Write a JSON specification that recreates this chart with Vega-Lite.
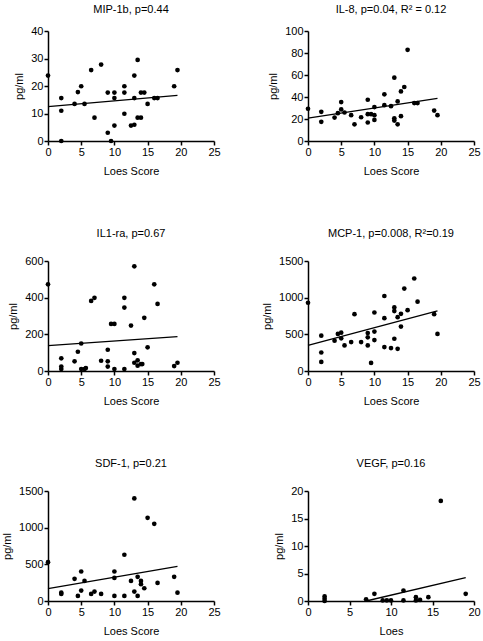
{
  "$schema": "https://vega.github.io/schema/vega-lite/v6.json",
  "padding": {"left": 1, "top": 4, "right": 5, "bottom": 5},
  "background": "white",
  "config": {
    "view": {"stroke": null},
    "font": "Liberation Sans",
    "axis": {
      "grid": false,
      "domainColor": "black",
      "domainWidth": 1.5,
      "tickColor": "black",
      "tickWidth": 1.5,
      "tickSize": 4,
      "labelFont": "Liberation Sans",
      "labelFontSize": 11,
      "labelColor": "black",
      "labelPadding": 1,
      "labelFlush": false,
      "labelOverlap": false,
      "titleFont": "Liberation Sans",
      "titleFontSize": 11,
      "titleFontWeight": "normal",
      "titleColor": "black",
      "format": "d"
    },
    "axisX": {"titlePadding": 8},
    "axisY": {"titlePadding": 6},
    "title": {"font": "Liberation Sans", "fontSize": 11, "fontWeight": "normal", "color": "black", "offset": 16, "anchor": "middle"}
  },
  "datasets": {
    "pts": [
      {"p": "MIP", "x": 0, "y": 23.8}, {"p": "MIP", "x": 2, "y": 15.6}, {"p": "MIP", "x": 2, "y": 11.0}, {"p": "MIP", "x": 2, "y": 0},
      {"p": "MIP", "x": 4, "y": 13.5}, {"p": "MIP", "x": 4.5, "y": 17.8}, {"p": "MIP", "x": 5, "y": 19.9}, {"p": "MIP", "x": 5.5, "y": 13.5},
      {"p": "MIP", "x": 6.5, "y": 25.8}, {"p": "MIP", "x": 7, "y": 8.5}, {"p": "MIP", "x": 8, "y": 27.8}, {"p": "MIP", "x": 9, "y": 17.6},
      {"p": "MIP", "x": 9, "y": 3.0}, {"p": "MIP", "x": 9.5, "y": 0}, {"p": "MIP", "x": 10, "y": 17.6}, {"p": "MIP", "x": 10, "y": 15.6},
      {"p": "MIP", "x": 10, "y": 5.6}, {"p": "MIP", "x": 11.5, "y": 19.9}, {"p": "MIP", "x": 11.5, "y": 17.6}, {"p": "MIP", "x": 11.5, "y": 9.9},
      {"p": "MIP", "x": 12.5, "y": 5.6}, {"p": "MIP", "x": 13, "y": 23.8}, {"p": "MIP", "x": 13, "y": 15.6}, {"p": "MIP", "x": 13, "y": 5.9},
      {"p": "MIP", "x": 13.5, "y": 29.5}, {"p": "MIP", "x": 13.5, "y": 8.5}, {"p": "MIP", "x": 14, "y": 8.5}, {"p": "MIP", "x": 14, "y": 17.6},
      {"p": "MIP", "x": 14.5, "y": 17.6}, {"p": "MIP", "x": 15, "y": 13.5}, {"p": "MIP", "x": 16, "y": 15.6}, {"p": "MIP", "x": 16.5, "y": 15.6},
      {"p": "MIP", "x": 19, "y": 19.9}, {"p": "MIP", "x": 19.5, "y": 25.8},

      {"p": "IL8", "x": 0, "y": 29.3}, {"p": "IL8", "x": 2, "y": 26.5}, {"p": "IL8", "x": 2, "y": 17.4}, {"p": "IL8", "x": 4, "y": 21.3},
      {"p": "IL8", "x": 4.5, "y": 25.3}, {"p": "IL8", "x": 5, "y": 35.4}, {"p": "IL8", "x": 5, "y": 28.7}, {"p": "IL8", "x": 5.5, "y": 25.9},
      {"p": "IL8", "x": 6.5, "y": 23.5}, {"p": "IL8", "x": 7, "y": 15.2}, {"p": "IL8", "x": 8, "y": 21.6}, {"p": "IL8", "x": 9, "y": 37.5},
      {"p": "IL8", "x": 9, "y": 24.4}, {"p": "IL8", "x": 9, "y": 16.8}, {"p": "IL8", "x": 9.5, "y": 24.4}, {"p": "IL8", "x": 10, "y": 30.8},
      {"p": "IL8", "x": 10, "y": 23.5}, {"p": "IL8", "x": 10, "y": 19.2}, {"p": "IL8", "x": 11.5, "y": 42.4}, {"p": "IL8", "x": 11.5, "y": 32.6},
      {"p": "IL8", "x": 12.5, "y": 31.7}, {"p": "IL8", "x": 13, "y": 57.6}, {"p": "IL8", "x": 13, "y": 20.7}, {"p": "IL8", "x": 13, "y": 18.6},
      {"p": "IL8", "x": 13.5, "y": 15.2}, {"p": "IL8", "x": 13.5, "y": 36.0}, {"p": "IL8", "x": 14, "y": 45.1}, {"p": "IL8", "x": 14, "y": 22.6},
      {"p": "IL8", "x": 14.5, "y": 49.1}, {"p": "IL8", "x": 15, "y": 82.9}, {"p": "IL8", "x": 16, "y": 34.5}, {"p": "IL8", "x": 16.5, "y": 34.5},
      {"p": "IL8", "x": 19, "y": 27.7}, {"p": "IL8", "x": 19.5, "y": 23.5},

      {"p": "IL1", "x": 0, "y": 473}, {"p": "IL1", "x": 2, "y": 69}, {"p": "IL1", "x": 2, "y": 24}, {"p": "IL1", "x": 2, "y": 11},
      {"p": "IL1", "x": 4, "y": 53}, {"p": "IL1", "x": 4.5, "y": 105}, {"p": "IL1", "x": 5, "y": 150}, {"p": "IL1", "x": 5, "y": 11},
      {"p": "IL1", "x": 5.5, "y": 11}, {"p": "IL1", "x": 5.7, "y": 16}, {"p": "IL1", "x": 6.5, "y": 382}, {"p": "IL1", "x": 7, "y": 399},
      {"p": "IL1", "x": 8, "y": 56}, {"p": "IL1", "x": 9, "y": 116}, {"p": "IL1", "x": 9, "y": 53}, {"p": "IL1", "x": 9, "y": 24},
      {"p": "IL1", "x": 9.5, "y": 257}, {"p": "IL1", "x": 10, "y": 257}, {"p": "IL1", "x": 10, "y": 11}, {"p": "IL1", "x": 11.5, "y": 399},
      {"p": "IL1", "x": 11.5, "y": 346}, {"p": "IL1", "x": 11.5, "y": 11}, {"p": "IL1", "x": 12.5, "y": 248}, {"p": "IL1", "x": 13, "y": 571},
      {"p": "IL1", "x": 13, "y": 98}, {"p": "IL1", "x": 13, "y": 45}, {"p": "IL1", "x": 13.5, "y": 58}, {"p": "IL1", "x": 13.5, "y": 29},
      {"p": "IL1", "x": 14, "y": 38}, {"p": "IL1", "x": 14.2, "y": 38}, {"p": "IL1", "x": 14.5, "y": 290}, {"p": "IL1", "x": 15, "y": 129},
      {"p": "IL1", "x": 16, "y": 473}, {"p": "IL1", "x": 16.5, "y": 366}, {"p": "IL1", "x": 19, "y": 27}, {"p": "IL1", "x": 19.5, "y": 45},

      {"p": "MCP", "x": 0, "y": 931}, {"p": "MCP", "x": 2, "y": 482}, {"p": "MCP", "x": 2, "y": 252}, {"p": "MCP", "x": 2, "y": 124},
      {"p": "MCP", "x": 4, "y": 413}, {"p": "MCP", "x": 4.5, "y": 505}, {"p": "MCP", "x": 5, "y": 523}, {"p": "MCP", "x": 5, "y": 445},
      {"p": "MCP", "x": 5.5, "y": 349}, {"p": "MCP", "x": 6.5, "y": 394}, {"p": "MCP", "x": 7, "y": 775}, {"p": "MCP", "x": 8, "y": 394},
      {"p": "MCP", "x": 9, "y": 518}, {"p": "MCP", "x": 9, "y": 459}, {"p": "MCP", "x": 9, "y": 349}, {"p": "MCP", "x": 9.5, "y": 110},
      {"p": "MCP", "x": 10, "y": 798}, {"p": "MCP", "x": 10, "y": 537}, {"p": "MCP", "x": 10, "y": 422}, {"p": "MCP", "x": 11.5, "y": 1023},
      {"p": "MCP", "x": 11.5, "y": 720}, {"p": "MCP", "x": 11.5, "y": 326}, {"p": "MCP", "x": 12.5, "y": 312}, {"p": "MCP", "x": 13, "y": 867},
      {"p": "MCP", "x": 13, "y": 817}, {"p": "MCP", "x": 13, "y": 440}, {"p": "MCP", "x": 13.5, "y": 734}, {"p": "MCP", "x": 13.5, "y": 303},
      {"p": "MCP", "x": 14, "y": 780}, {"p": "MCP", "x": 14, "y": 606}, {"p": "MCP", "x": 14.5, "y": 1124}, {"p": "MCP", "x": 15, "y": 830},
      {"p": "MCP", "x": 16, "y": 1261}, {"p": "MCP", "x": 16.5, "y": 945}, {"p": "MCP", "x": 19, "y": 775}, {"p": "MCP", "x": 19.5, "y": 505},

      {"p": "SDF", "x": 0, "y": 530}, {"p": "SDF", "x": 2, "y": 114}, {"p": "SDF", "x": 2, "y": 96}, {"p": "SDF", "x": 4, "y": 302},
      {"p": "SDF", "x": 4.5, "y": 69}, {"p": "SDF", "x": 5, "y": 402}, {"p": "SDF", "x": 5, "y": 142}, {"p": "SDF", "x": 5.5, "y": 274},
      {"p": "SDF", "x": 6.5, "y": 96}, {"p": "SDF", "x": 7, "y": 128}, {"p": "SDF", "x": 8, "y": 96}, {"p": "SDF", "x": 10, "y": 402},
      {"p": "SDF", "x": 10, "y": 315}, {"p": "SDF", "x": 10, "y": 69}, {"p": "SDF", "x": 11.5, "y": 631}, {"p": "SDF", "x": 11.5, "y": 69},
      {"p": "SDF", "x": 12.5, "y": 274}, {"p": "SDF", "x": 13, "y": 1399}, {"p": "SDF", "x": 13, "y": 128}, {"p": "SDF", "x": 13.5, "y": 329},
      {"p": "SDF", "x": 13.5, "y": 69}, {"p": "SDF", "x": 14, "y": 274}, {"p": "SDF", "x": 14, "y": 229}, {"p": "SDF", "x": 14.5, "y": 174},
      {"p": "SDF", "x": 15, "y": 1134}, {"p": "SDF", "x": 16, "y": 1052}, {"p": "SDF", "x": 16.5, "y": 247}, {"p": "SDF", "x": 19, "y": 329},
      {"p": "SDF", "x": 19.5, "y": 114},

      {"p": "VEGF", "x": 2, "y": 0.84}, {"p": "VEGF", "x": 2, "y": 0.4}, {"p": "VEGF", "x": 2, "y": 0}, {"p": "VEGF", "x": 7, "y": 0.3},
      {"p": "VEGF", "x": 8, "y": 1.3}, {"p": "VEGF", "x": 9, "y": 0.1}, {"p": "VEGF", "x": 9.5, "y": 0.1}, {"p": "VEGF", "x": 10, "y": 0.1},
      {"p": "VEGF", "x": 11.5, "y": 1.9}, {"p": "VEGF", "x": 11.5, "y": 0.1}, {"p": "VEGF", "x": 13, "y": 0.7}, {"p": "VEGF", "x": 13, "y": 0.1},
      {"p": "VEGF", "x": 13.5, "y": 0.2}, {"p": "VEGF", "x": 14.5, "y": 0.7}, {"p": "VEGF", "x": 16, "y": 18.2}, {"p": "VEGF", "x": 19, "y": 1.3}
    ],
    "fit": [
      {"p": "MIP", "x": 0, "y": 12.5}, {"p": "MIP", "x": 19.5, "y": 16.6},
      {"p": "IL8", "x": 0, "y": 20.7}, {"p": "IL8", "x": 19.5, "y": 38.7},
      {"p": "IL1", "x": 0, "y": 138}, {"p": "IL1", "x": 19.5, "y": 187},
      {"p": "MCP", "x": 0, "y": 349}, {"p": "MCP", "x": 19.5, "y": 821},
      {"p": "SDF", "x": 0, "y": 169}, {"p": "SDF", "x": 19.5, "y": 471},
      {"p": "VEGF", "x": 7, "y": 0}, {"p": "VEGF", "x": 19, "y": 4.25}
    ]
  },
  "columns": 2,
  "spacing": {"row": 52, "column": 40},
  "concat": [
    {
      "width": 166, "height": 110,
      "title": {"text": "MIP-1b, p=0.44", "offset": 10},
      "encoding": {
        "x": {"field": "x", "type": "quantitative", "scale": {"domain": [0, 25], "nice": false}, "axis": {"values": [0, 5, 10, 15, 20, 25], "title": "Loes Score", "titleFontWeight": "normal"}},
        "y": {"field": "y", "type": "quantitative", "scale": {"domain": [0, 40], "nice": false}, "axis": {"values": [0, 10, 20, 30, 40], "title": "pg/ml", "titleFontWeight": "normal"}}
      },
      "layer": [
        {"data": {"name": "pts"}, "transform": [{"filter": "datum.p == 'MIP'"}], "mark": {"type": "circle", "size": 22, "color": "black", "opacity": 1}},
        {"data": {"name": "fit"}, "transform": [{"filter": "datum.p == 'MIP'"}], "mark": {"type": "line", "color": "black", "strokeWidth": 1.3}}
      ]
    },
    {
      "width": 166, "height": 110,
      "title": {"text": "IL-8, p=0.04, R² = 0.12", "offset": 10},
      "encoding": {
        "x": {"field": "x", "type": "quantitative", "scale": {"domain": [0, 25], "nice": false}, "axis": {"values": [0, 5, 10, 15, 20, 25], "title": "Loes Score", "titleFontWeight": "normal"}},
        "y": {"field": "y", "type": "quantitative", "scale": {"domain": [0, 100], "nice": false}, "axis": {"values": [0, 20, 40, 60, 80, 100], "title": "pg/ml", "titleFontWeight": "normal"}}
      },
      "layer": [
        {"data": {"name": "pts"}, "transform": [{"filter": "datum.p == 'IL8'"}], "mark": {"type": "circle", "size": 22, "color": "black", "opacity": 1}},
        {"data": {"name": "fit"}, "transform": [{"filter": "datum.p == 'IL8'"}], "mark": {"type": "line", "color": "black", "strokeWidth": 1.3}}
      ]
    },
    {
      "width": 166, "height": 110,
      "title": {"text": "IL1-ra, p=0.67"},
      "encoding": {
        "x": {"field": "x", "type": "quantitative", "scale": {"domain": [0, 25], "nice": false}, "axis": {"values": [0, 5, 10, 15, 20, 25], "title": "Loes Score", "titleFontWeight": "normal"}},
        "y": {"field": "y", "type": "quantitative", "scale": {"domain": [0, 600], "nice": false}, "axis": {"values": [0, 200, 400, 600], "title": "pg/ml", "titleFontWeight": "normal"}}
      },
      "layer": [
        {"data": {"name": "pts"}, "transform": [{"filter": "datum.p == 'IL1'"}], "mark": {"type": "circle", "size": 22, "color": "black", "opacity": 1}},
        {"data": {"name": "fit"}, "transform": [{"filter": "datum.p == 'IL1'"}], "mark": {"type": "line", "color": "black", "strokeWidth": 1.3}}
      ]
    },
    {
      "width": 166, "height": 110,
      "title": {"text": "MCP-1, p=0.008, R²=0.19"},
      "encoding": {
        "x": {"field": "x", "type": "quantitative", "scale": {"domain": [0, 25], "nice": false}, "axis": {"values": [0, 5, 10, 15, 20, 25], "title": "Loes Score", "titleFontWeight": "normal"}},
        "y": {"field": "y", "type": "quantitative", "scale": {"domain": [0, 1500], "nice": false}, "axis": {"values": [0, 500, 1000, 1500], "title": "pg/ml", "titleFontWeight": "normal"}}
      },
      "layer": [
        {"data": {"name": "pts"}, "transform": [{"filter": "datum.p == 'MCP'"}], "mark": {"type": "circle", "size": 22, "color": "black", "opacity": 1}},
        {"data": {"name": "fit"}, "transform": [{"filter": "datum.p == 'MCP'"}], "mark": {"type": "line", "color": "black", "strokeWidth": 1.3}}
      ]
    },
    {
      "width": 166, "height": 110,
      "title": {"text": "SDF-1, p=0.21"},
      "encoding": {
        "x": {"field": "x", "type": "quantitative", "scale": {"domain": [0, 25], "nice": false}, "axis": {"values": [0, 5, 10, 15, 20, 25], "title": "Loes Score", "titleFontWeight": "normal"}},
        "y": {"field": "y", "type": "quantitative", "scale": {"domain": [0, 1500], "nice": false}, "axis": {"values": [0, 500, 1000, 1500], "title": "pg/ml", "titleFontWeight": "normal"}}
      },
      "layer": [
        {"data": {"name": "pts"}, "transform": [{"filter": "datum.p == 'SDF'"}], "mark": {"type": "circle", "size": 22, "color": "black", "opacity": 1}},
        {"data": {"name": "fit"}, "transform": [{"filter": "datum.p == 'SDF'"}], "mark": {"type": "line", "color": "black", "strokeWidth": 1.3}}
      ]
    },
    {
      "width": 166, "height": 110,
      "title": {"text": "VEGF, p=0.16"},
      "encoding": {
        "x": {"field": "x", "type": "quantitative", "scale": {"domain": [0, 20], "nice": false}, "axis": {"values": [0, 5, 10, 15, 20], "title": "Loes", "titleFontWeight": "normal"}},
        "y": {"field": "y", "type": "quantitative", "scale": {"domain": [0, 20], "nice": false}, "axis": {"values": [0, 5, 10, 15, 20], "title": "pg/ml", "titleFontWeight": "normal"}}
      },
      "layer": [
        {"data": {"name": "pts"}, "transform": [{"filter": "datum.p == 'VEGF'"}], "mark": {"type": "circle", "size": 22, "color": "black", "opacity": 1}},
        {"data": {"name": "fit"}, "transform": [{"filter": "datum.p == 'VEGF'"}], "mark": {"type": "line", "color": "black", "strokeWidth": 1.3}}
      ]
    }
  ]
}
